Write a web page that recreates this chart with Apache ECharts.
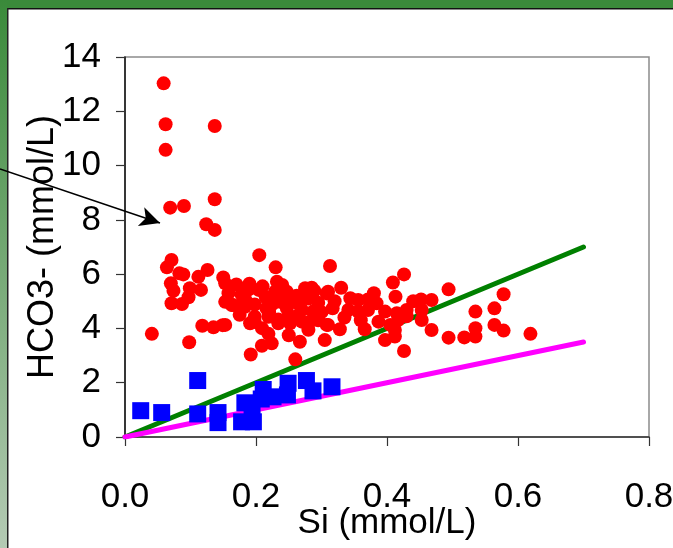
<!DOCTYPE html>
<html>
<head>
<meta charset="utf-8">
<script src="https://cdn.jsdelivr.net/npm/echarts@6/dist/echarts.min.js"></script>
<style>
  html, body { margin: 0; padding: 0; background: #ffffff; }
  #chart { width: 673px; height: 548px; }
</style>
</head>
<body>
<div id="chart"></div>
<script>
// Red group: Si and HCO3- (mmol/L)
const redSi = [
  0.059, 0.062, 0.137, 0.062, 0.137, 0.069, 0.090, 0.124, 0.137,
  0.071, 0.064, 0.083, 0.089, 0.126, 0.112, 0.070, 0.074, 0.099, 0.116,
  0.097, 0.071, 0.087, 0.150, 0.153, 0.158, 0.118, 0.135, 0.149, 0.041,
  0.098, 0.153, 0.153,
  0.205, 0.230, 0.313, 0.170, 0.188, 0.204, 0.232, 0.229, 0.247, 0.275,
  0.289, 0.308, 0.163, 0.181, 0.198, 0.216, 0.247, 0.270, 0.287, 0.198,
  0.219, 0.234, 0.252, 0.270, 0.282, 0.308, 0.209, 0.219, 0.209, 0.224,
  0.267, 0.305, 0.192, 0.260, 0.237, 0.183, 0.165, 0.191, 0.234, 0.198,
  0.255, 0.262, 0.295, 0.240, 0.262, 0.178, 0.215, 0.280, 0.250, 0.295,
  0.185, 0.210, 0.225, 0.245, 0.265, 0.280, 0.300, 0.285, 0.250, 0.220,
  0.175, 0.190, 0.320, 0.335, 0.360, 0.380, 0.430, 0.440,
  0.426, 0.409, 0.330, 0.310, 0.413, 0.344, 0.356, 0.371, 0.384, 0.452,
  0.468, 0.494, 0.317, 0.341, 0.356, 0.371, 0.397, 0.415, 0.430, 0.453,
  0.453, 0.387, 0.405, 0.417, 0.310, 0.328, 0.366, 0.412, 0.468, 0.397,
  0.412, 0.426, 0.494,
  0.578, 0.564, 0.535, 0.535, 0.564, 0.578, 0.518, 0.535, 0.619
];
const redHCO3 = [
  13.03, 11.52, 11.46, 10.58, 8.76, 8.45, 8.51, 7.84, 7.63,
  6.52, 6.25, 6.03, 5.99, 6.15, 5.90, 5.66, 5.39, 5.48, 5.42,
  5.15, 4.93, 4.90, 5.88, 4.98, 5.30, 4.10, 4.04, 4.12, 3.80,
  3.49, 5.66, 4.13,
  6.70, 6.25, 6.30, 5.62, 5.42, 5.42, 5.72, 5.35, 5.35, 5.48,
  5.39, 5.29, 4.86, 5.05, 4.88, 4.74, 4.74, 4.68, 4.62, 4.25,
  4.43, 4.19, 4.19, 4.25, 4.25, 4.13, 4.01, 3.80, 3.36, 3.45,
  3.51, 3.57, 3.04, 2.86, 4.98, 4.80, 4.86, 4.19, 4.33, 4.43,
  5.05, 4.45, 4.95, 5.60, 5.20, 5.25, 5.15, 3.95, 3.75, 4.30,
  5.00, 5.55, 4.90, 5.15, 4.90, 5.10, 4.60, 5.50, 4.45, 4.60,
  4.50, 5.65, 5.00, 4.40, 4.30, 5.30, 4.45, 5.00,
  5.99, 5.69, 5.50, 5.35, 5.17, 5.11, 5.05, 5.07, 4.93, 5.07,
  5.05, 5.44, 4.74, 4.68, 4.62, 4.68, 4.62, 4.56, 4.68, 4.68,
  4.31, 4.25, 4.13, 4.31, 4.13, 3.97, 3.97, 3.94, 3.94, 3.57,
  3.70, 3.17, 3.66,
  5.26, 4.74, 4.62, 4.01, 4.13, 3.92, 3.67, 3.70, 3.80
];

// Blue group: Si and HCO3- (mmol/L)
const blueSi = [
  0.024, 0.056, 0.111, 0.111, 0.142, 0.142, 0.183, 0.178, 0.196,
  0.194, 0.211, 0.208, 0.226, 0.249, 0.248, 0.277, 0.287, 0.316
];
const blueHCO3 = [
  0.97, 0.90, 2.08, 0.85, 0.90, 0.53, 1.26, 0.56, 0.56,
  0.87, 1.75, 1.40, 1.48, 1.98, 1.55, 2.08, 1.70, 1.85
];

// Reference lines: HCO3-/Si = 10 and HCO3-/Si = 5
const lineSi = [0, 0.7];
const greenHCO3 = [0, 7];
const magentaHCO3 = [0, 3.5];

const zip = (xs, ys) => xs.map((x, i) => [x, ys[i]]);

const FONT = '"Liberation Sans", Arial, sans-serif';
const chart = echarts.init(document.getElementById('chart'), null, { renderer: 'canvas' });

chart.setOption({
  animation: false,
  backgroundColor: '#ffffff',
  graphic: [
    // slide frame: green band along the top and left
    { type: 'rect', left: 0, top: 0, shape: { width: 673, height: 9 },
      style: { fill: '#3a8a3a' }, z: 0 },
    { type: 'rect', left: 0, top: 0, shape: { width: 7, height: 548 },
      style: { fill: new echarts.graphic.LinearGradient(0, 0, 0, 1, [
        { offset: 0, color: '#3a8a3a' }, { offset: 1, color: '#b4cab4' }]) }, z: 0 },
    { type: 'rect', left: 7, top: 8, shape: { width: 666, height: 1.5 },
      style: { fill: '#111111' }, z: 1 },
    { type: 'rect', left: 7, top: 8, shape: { width: 1.5, height: 540 },
      style: { fill: '#222222' }, z: 1 }
  ],
  grid: { left: 125, top: 57, right: 24, bottom: 111, show: true,
          outerBoundsMode: 'none', containLabel: false,
          borderColor: '#8c8c8c', borderWidth: 1.5 },
  xAxis: {
    type: 'value', min: 0, max: 0.8, interval: 0.2,
    name: 'Si (mmol/L)', nameLocation: 'middle', nameGap: 69, nameMoveOverlap: false,
    nameTextStyle: { fontFamily: FONT, fontSize: 35, color: '#000' },
    axisLine: { lineStyle: { color: '#333', width: 1.5 } },
    axisTick: { show: true, length: 9, lineStyle: { color: '#333', width: 1.2 } },
    axisLabel: { margin: 43, fontFamily: FONT, fontSize: 35, color: '#000',
                 formatter: v => v.toFixed(1) },
    splitLine: { show: false }
  },
  yAxis: {
    type: 'value', min: 0, max: 14, interval: 2,
    name: 'HCO3- (mmol/L)', nameLocation: 'middle', nameGap: 64, nameRotate: 90,
    nameMoveOverlap: false,
    nameTextStyle: { fontFamily: FONT, fontSize: 36, color: '#000' },
    axisLine: { lineStyle: { color: '#111', width: 1.5 } },
    axisTick: { show: true, length: 9, lineStyle: { color: '#333', width: 1.2 } },
    axisLabel: { margin: 24, fontFamily: FONT, fontSize: 35, color: '#000' },
    splitLine: { show: false }
  },
  series: [
    {
      type: 'line', data: zip(lineSi, greenHCO3), symbol: 'none', z: 2,
      lineStyle: { color: '#008000', width: 5, cap: 'round' },
      markLine: {
        silent: true, symbol: ['none', 'arrow'], symbolSize: [15, 20],
        lineStyle: { color: '#000', width: 1.5, type: 'solid' },
        label: { show: false },
        data: [[{ x: 0, y: 169 }, { x: 160, y: 223 }]]
      }
    },
    {
      type: 'line', data: zip(lineSi, magentaHCO3), symbol: 'none', z: 2,
      lineStyle: { color: '#ff00ff', width: 5, cap: 'round' }
    },
    {
      type: 'scatter', data: zip(redSi, redHCO3), symbol: 'circle', symbolSize: 14, z: 3,
      itemStyle: { color: '#ff0000', opacity: 1 }
    },
    {
      type: 'scatter', data: zip(blueSi, blueHCO3), symbol: 'rect', symbolSize: 17, z: 3,
      itemStyle: { color: '#0000ff', opacity: 1 }
    }
  ]
});
</script>
</body>
</html>
